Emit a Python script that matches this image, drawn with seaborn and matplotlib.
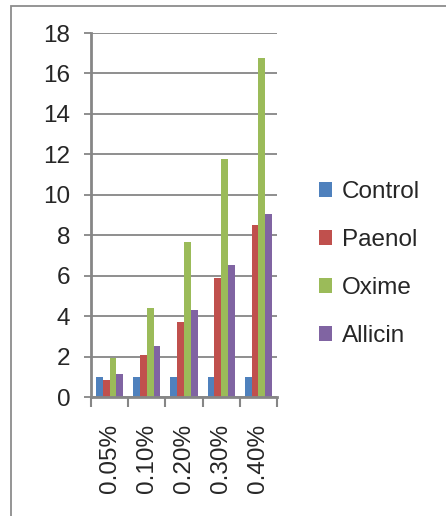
import matplotlib
matplotlib.use("Agg")
import matplotlib.pyplot as plt
from matplotlib.patches import Rectangle, Patch
import numpy as np
import pandas as pd
import seaborn as sns

concentrations = ["0.05%", "0.10%", "0.20%", "0.30%", "0.40%"]
series = ["Control", "Paenol", "Oxime", "Allicin"]
control = [1.0, 1.0, 1.0, 1.0, 1.0]
paenol = [0.82, 2.1, 3.7, 5.88, 8.52]
oxime = [1.93, 4.4, 7.65, 11.78, 16.75]
allicin = [1.12, 2.52, 4.3, 6.55, 9.03]
colors = ["#4F81BD", "#C0504D", "#9BBB59", "#8064A2"]

df = pd.DataFrame({
    "conc": concentrations * 4,
    "series": np.repeat(series, len(concentrations)),
    "value": control + paenol + oxime + allicin,
})

sns.set_style("white")
plt.rcParams["font.family"] = ["Liberation Sans", "DejaVu Sans"]
fs = 17.5

fig = plt.figure(figsize=(4.46, 5.16), dpi=100)
ax = fig.add_axes([91 / 446, 1 - 397 / 516, (277 - 91) / 446, (397 - 33) / 516])

sns.barplot(data=df, x="conc", y="value", hue="series", hue_order=series,
            palette=colors, width=0.727, gap=0, ax=ax, legend=False,
            saturation=1, edgecolor="none", linewidth=0)

grid_c = "#868686"
ax.set_ylim(0, 18)
ax.set_xlim(-0.5, 4.5)
ax.set_yticks(range(0, 19, 2))
ax.yaxis.grid(True, color=grid_c, linewidth=1.3)
ax.set_axisbelow(True)
ax.set_xlabel("")
ax.set_ylabel("")

for s in ["top", "right"]:
    ax.spines[s].set_visible(False)
for s in ["left", "bottom"]:
    ax.spines[s].set_color(grid_c)
    ax.spines[s].set_linewidth(2)

ax.tick_params(axis="y", length=5, width=1.3, color=grid_c, pad=10, labelsize=fs,
               left=True)
ax.set_xticks(range(len(concentrations)))
ax.set_xticklabels(concentrations, rotation=90)
ax.tick_params(axis="x", which="major", length=0, pad=19, labelsize=fs)
ax.set_xticks(np.arange(-0.5, 5, 1), minor=True)
ax.tick_params(axis="x", which="minor", length=7, width=1.5, color=grid_c,
               bottom=True)

handles = [Patch(facecolor=c, edgecolor="none") for c in colors]
fig.legend(handles, series, loc="center left",
           bbox_to_anchor=(319 / 446, 1 - 264 / 516), frameon=False,
           fontsize=fs, handlelength=0.55, handleheight=0.55,
           handletextpad=0.4, labelspacing=1.07, borderpad=0,
           borderaxespad=0)

# outer chart frame
fig.patches.append(Rectangle((11 / 446, -0.1), 1.2, 1 - 6 / 516 + 0.1,
                             transform=fig.transFigure, fill=False,
                             edgecolor="#8c8c8c", linewidth=1.3))

fig.savefig("out.png", dpi=100)
